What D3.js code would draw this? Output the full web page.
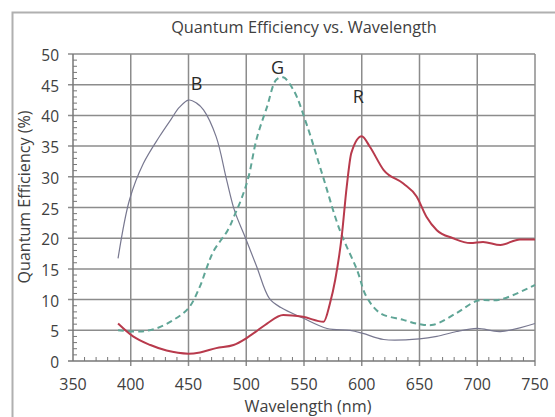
<!DOCTYPE html>
<html><head><meta charset="utf-8">
<script src="https://cdn.jsdelivr.net/npm/d3@7"></script>
<style>body{margin:0;background:#fff}svg{display:block}text{font-family:"Open Sans",sans-serif;fill:#404040}</style>
</head><body>
<script>
const title = "Quantum Efficiency vs. Wavelength";
const xTitle = "Wavelength (nm)";
const yTitle = "Quantum Efficiency (%)";
const xTicks = [350,400,450,500,550,600,650,700,750];
const yTicks = [0,5,10,15,20,25,30,35,40,45,50];

const blueWl = [389,399,411,425,435,442,450,457,463,474,483,490,499,509,520,530,549,570,590,601,619,650,665,682,700,720,750];
const blueQE = [16.7,26.3,32.2,36.6,39.4,41.3,42.5,42.0,40.9,36.5,29.5,24.4,20.2,15.4,10.2,8.7,7.0,5.3,5.0,4.5,3.5,3.6,4.0,4.8,5.3,4.8,6.1];

const greenWl = [389,408,422,437,450,460,466,472,484,490,496,502,509,518,526,532,541,552,566,581,596,604,616,636,650,662,682,700,720,750];
const greenQE = [5.0,4.8,5.3,6.7,8.6,12.2,15.3,18.0,21.3,23.8,26.5,30.0,36.2,41.4,45.8,46.2,44.1,38.7,30.3,21.3,14.8,10.5,7.8,6.7,6.0,5.9,7.8,9.8,10.0,12.4];

const redWl = [389,402,417,431,450,460,474,489,500,510,518,532,549,567,572.5,577,582.6,587,591,600,607,619,636,647.5,656,665,679,694,705,720,737,750];
const redQE = [6.1,4.0,2.6,1.7,1.2,1.4,2.1,2.6,3.7,5.0,6.1,7.5,7.2,6.4,9.4,13.2,20.2,28.4,33.9,36.6,34.9,31.1,28.9,26.8,23.5,21.3,20.0,19.2,19.4,18.9,19.8,19.8];

const labels = [{t:"B",wl:457,v:44.1},{t:"G",wl:527,v:46.7},{t:"R",wl:597,v:42}];

const W=555,H=417;
const svg=d3.select("body").append("svg").attr("width",W).attr("height",H);
svg.append("rect").attr("width",W).attr("height",H).attr("fill","#fff");
svg.append("path").attr("d","M12.5,"+H+"V12.5H"+W).attr("fill","none").attr("stroke","#b0b0b0").attr("stroke-width",2);

const x=d3.scaleLinear().domain([350,750]).range([73,535]);
const y=d3.scaleLinear().domain([0,50]).range([361,54]);

const g=svg.append("g");
g.selectAll("line.v").data(xTicks.slice(1)).join("line")
 .attr("x1",d=>x(d)).attr("x2",d=>x(d)).attr("y1",y(50)).attr("y2",y(0)+5)
 .attr("stroke","#8c8c8c").attr("stroke-width",1.5);
g.selectAll("line.h").data(yTicks.slice(1)).join("line")
 .attr("y1",d=>y(d)).attr("y2",d=>y(d)).attr("x1",x(350)-5).attr("x2",x(750))
 .attr("stroke","#8c8c8c").attr("stroke-width",1.5);

const xMinor=d3.range(360,750,10).filter(v=>v%50);
g.selectAll("line.xm").data(xMinor).join("line")
 .attr("x1",d=>x(d)).attr("x2",d=>x(d)).attr("y1",y(0)).attr("y2",y(0)-4)
 .attr("stroke","#777").attr("stroke-width",1);
const yMinor=d3.range(1,50,1).filter(v=>v%5);
g.selectAll("line.ym").data(yMinor).join("line")
 .attr("y1",d=>y(d)).attr("y2",d=>y(d)).attr("x1",x(350)).attr("x2",x(350)+4)
 .attr("stroke","#777").attr("stroke-width",1);
g.append("line").attr("x1",x(350)).attr("x2",x(350)).attr("y1",y(50)).attr("y2",y(0)).attr("stroke","#777").attr("stroke-width",1.5);
g.append("line").attr("x1",x(350)-5).attr("x2",x(750)).attr("y1",y(0)).attr("y2",y(0)).attr("stroke","#777").attr("stroke-width",1.5);

svg.selectAll("text.xl").data(xTicks).join("text")
 .attr("x",d=>x(d)).attr("y",390).attr("text-anchor","middle").attr("font-size",16).text(d=>d);
svg.selectAll("text.yl").data(yTicks).join("text")
 .attr("x",59).attr("y",d=>y(d)+7).attr("text-anchor","end").attr("font-size",15.5).text(d=>d);

function fit(sel,target){const w=sel.node().getComputedTextLength();const fs=+sel.attr("font-size");sel.attr("font-size",fs*target/w);}
const t1=svg.append("text").attr("x",304).attr("y",33).attr("text-anchor","middle").attr("font-size",12).text(title);
fit(t1,266);
const t2=svg.append("text").attr("x",308).attr("y",412).attr("text-anchor","middle").attr("font-size",12).text(xTitle);
fit(t2,127);
const t3=svg.append("text").attr("transform","translate(30,197) rotate(-90)").attr("text-anchor","middle").attr("font-size",12).text(yTitle);
fit(t3,173);

const smooth=d3.line().x(d=>x(d[0])).y(d=>y(d[1])).curve(d3.curveCatmullRom.alpha(0.5));
const mono=d3.line().x(d=>x(d[0])).y(d=>y(d[1])).curve(d3.curveMonotoneX);
svg.append("path").attr("d",smooth(d3.zip(blueWl,blueQE))).attr("fill","none").attr("stroke","#787890").attr("stroke-width",1.2);
svg.append("path").attr("d",smooth(d3.zip(greenWl,greenQE))).attr("fill","none").attr("stroke","#5fa596").attr("stroke-width",2).attr("stroke-dasharray","6,4");
svg.append("path").attr("d",mono(d3.zip(redWl,redQE))).attr("fill","none").attr("stroke","#b83a4c").attr("stroke-width",2);

svg.selectAll("text.lab").data(labels).join("text")
 .attr("x",d=>x(d.wl)).attr("y",d=>y(d.v)).attr("text-anchor","middle").attr("font-size",18).style("fill","#2a2a2a").text(d=>d.t);
</script>
</body></html>
